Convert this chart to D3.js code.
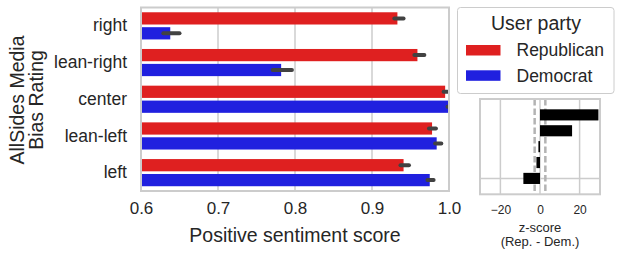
<!DOCTYPE html>
<html>
<head>
<meta charset="utf-8">
<script src="https://cdn.jsdelivr.net/npm/d3@7"></script>
<style>
  body { margin: 0; background: #fff; }
  svg { font-family: "Liberation Sans", Arial, sans-serif; }
</style>
</head>
<body>
<div id="chart"></div>
<script>
// chart data
const categories = ["right", "lean-right", "center", "lean-left", "left"];
const parties = ["Republican", "Democrat"];
const repMean = [0.933, 0.959, 0.995, 0.978, 0.941];
const repLow = [0.929, 0.955, 0.993, 0.974, 0.937];
const repHigh = [0.941, 0.968, 0.998, 0.983, 0.948];
const demMean = [0.638, 0.782, 0.999, 0.984, 0.975];
const demLow = [0.629, 0.771, 0.998, 0.982, 0.972];
const demHigh = [0.650, 0.796, 1.000, 0.990, 0.980];
const zScores = [29.5, 16.2, -0.8, -1.8, -8.4];
const xTicks = [0.6, 0.7, 0.8, 0.9, 1.0];
const zTicks = [-20, 0, 20];

const width = 622;
const height = 257;
const margin = { top: 7.5, right: 173, bottom: 66, left: 141 };
const textColor = "#262626";
const gridColor = "#cccccc";
const colors = { Republican: "#df2020", Democrat: "#2020df" };

const rows = [];
categories.forEach((c, i) => {
    rows.push({ cat: c, party: "Republican", v: repMean[i], lo: repLow[i], hi: repHigh[i] });
    rows.push({ cat: c, party: "Democrat", v: demMean[i], lo: demLow[i], hi: demHigh[i] });
});

const svg = d3.select("#chart")
    .append("svg")
    .attr("width", width)
    .attr("height", height);

// main plot scales
const x = d3.scaleLinear()
    .domain([0.6, 1.0])
    .range([margin.left, width - margin.right]);

const y0 = d3.scaleBand()
    .domain(categories)
    .range([margin.top, height - margin.bottom])
    .paddingInner(0.26)
    .paddingOuter(0.13);

const y1 = d3.scaleBand()
    .domain(parties)
    .range([0, y0.bandwidth()])
    .paddingInner(0.18);

svg.append("clipPath")
    .attr("id", "clipMain")
    .append("rect")
    .attr("x", x(0.6))
    .attr("y", margin.top)
    .attr("width", x(1.0) - x(0.6))
    .attr("height", height - margin.bottom - margin.top);

// vertical grid
svg.append("g")
    .selectAll("line")
    .data(xTicks)
    .enter()
    .append("line")
    .attr("x1", d => x(d))
    .attr("x2", d => x(d))
    .attr("y1", margin.top)
    .attr("y2", height - margin.bottom)
    .attr("stroke", gridColor)
    .attr("stroke-width", 1.5);

const plot = svg.append("g").attr("clip-path", "url(#clipMain)");

plot.selectAll("rect.bar")
    .data(rows)
    .enter()
    .append("rect")
    .attr("class", "bar")
    .attr("x", x(0.6) - 5)
    .attr("y", d => y0(d.cat) + y1(d.party))
    .attr("width", d => x(d.v) - x(0.6) + 5)
    .attr("height", y1.bandwidth())
    .attr("fill", d => colors[d.party]);

// error bars
plot.selectAll("line.err")
    .data(rows)
    .enter()
    .append("line")
    .attr("x1", d => x(d.lo))
    .attr("x2", d => x(d.hi))
    .attr("y1", d => y0(d.cat) + y1(d.party) + y1.bandwidth() / 2)
    .attr("y2", d => y0(d.cat) + y1(d.party) + y1.bandwidth() / 2)
    .attr("stroke", "#424242")
    .attr("stroke-width", 4)
    .attr("stroke-linecap", "round");

// frame
svg.append("rect")
    .attr("x", x(0.6))
    .attr("y", margin.top)
    .attr("width", x(1.0) - x(0.6))
    .attr("height", height - margin.bottom - margin.top)
    .attr("fill", "none")
    .attr("stroke", gridColor)
    .attr("stroke-width", 2);

// axes
const xAxis = svg.append("g")
    .attr("transform", `translate(0, ${height - margin.bottom})`)
    .call(d3.axisBottom(x).tickValues(xTicks).tickFormat(d3.format(".1f")).tickSize(0).tickPadding(11));
xAxis.select(".domain").remove();
xAxis.selectAll("text").style("font-size", "17px").attr("fill", textColor);

const yAxis = svg.append("g")
    .attr("transform", `translate(${margin.left}, 0)`)
    .call(d3.axisLeft(y0).tickSize(0).tickPadding(14));
yAxis.select(".domain").remove();
yAxis.selectAll("text").style("font-size", "17.5px").attr("fill", textColor);

// axis titles
svg.append("text")
    .attr("x", (x(0.6) + x(1.0)) / 2)
    .attr("y", 241.5)
    .style("text-anchor", "middle")
    .style("font-size", "19.5px")
    .attr("fill", textColor)
    .text("Positive sentiment score");

const yTitle = svg.append("text")
    .attr("transform", "rotate(-90)")
    .style("text-anchor", "middle")
    .style("font-size", "19.5px")
    .attr("fill", textColor);
yTitle.append("tspan").attr("x", -100).attr("y", 23.5).text("AllSides Media");
yTitle.append("tspan").attr("x", -100).attr("y", 42.5).text("Bias Rating");

// legend
const legend = svg.append("g");
legend.append("rect")
    .attr("x", 457.5)
    .attr("y", 7.5)
    .attr("width", 156.5)
    .attr("height", 86)
    .attr("rx", 3)
    .attr("fill", "#fff")
    .attr("stroke", gridColor)
    .attr("stroke-width", 1);
legend.append("text")
    .attr("x", 536)
    .attr("y", 30)
    .style("text-anchor", "middle")
    .style("font-size", "19.5px")
    .attr("fill", textColor)
    .text("User party");
parties.forEach((p, i) => {
    legend.append("rect")
        .attr("x", 466)
        .attr("y", 45 + i * 25.3)
        .attr("width", 34.5)
        .attr("height", 10.5)
        .attr("fill", colors[p]);
    legend.append("text")
        .attr("x", 516.5)
        .attr("y", 56.3 + i * 25.3)
        .style("font-size", "17.5px")
        .attr("fill", textColor)
        .text(p);
});

// z-score panel
const zx = d3.scaleLinear().domain([-30.3, 30.3]).range([480, 600]);
const zy = d3.scaleLinear().domain([-1, 5]).range([99, 194.3]);

svg.append("g")
    .selectAll("line")
    .data(zTicks)
    .enter()
    .append("line")
    .attr("x1", d => zx(d))
    .attr("x2", d => zx(d))
    .attr("y1", zy(-1))
    .attr("y2", zy(5))
    .attr("stroke", gridColor)
    .attr("stroke-width", 1.5);

svg.append("line")
    .attr("x1", zx(-30.3))
    .attr("x2", zx(30.3))
    .attr("y1", zy(4))
    .attr("y2", zy(4))
    .attr("stroke", gridColor)
    .attr("stroke-width", 1.5);

svg.append("g")
    .selectAll("line")
    .data([-2.7, 2.7])
    .enter()
    .append("line")
    .attr("x1", d => zx(d))
    .attr("x2", d => zx(d))
    .attr("y1", zy(-1))
    .attr("y2", zy(5))
    .attr("stroke", "#b3b3b3")
    .attr("stroke-width", 2.5)
    .attr("stroke-dasharray", "6.5,3");

svg.append("g")
    .selectAll("rect")
    .data(zScores)
    .enter()
    .append("rect")
    .attr("x", d => zx(Math.min(0, d)))
    .attr("y", (d, i) => zy(i - 0.35))
    .attr("width", d => Math.abs(zx(d) - zx(0)))
    .attr("height", zy(0.7) - zy(0))
    .attr("fill", "#000");

svg.append("rect")
    .attr("x", zx(-30.3))
    .attr("y", zy(-1))
    .attr("width", zx(30.3) - zx(-30.3))
    .attr("height", zy(5) - zy(-1))
    .attr("fill", "none")
    .attr("stroke", gridColor)
    .attr("stroke-width", 2);

const zAxis = svg.append("g")
    .attr("transform", `translate(0, ${zy(5)})`)
    .call(d3.axisBottom(zx).tickValues(zTicks).tickFormat(d3.format("d")).tickSize(0).tickPadding(11));
zAxis.select(".domain").remove();
zAxis.selectAll("text").style("font-size", "12px").attr("fill", textColor);

const zTitle = svg.append("text")
    .style("text-anchor", "middle")
    .style("font-size", "13px")
    .attr("fill", textColor);
zTitle.append("tspan").attr("x", 540).attr("y", 232).text("z-score");
zTitle.append("tspan").attr("x", 540).attr("y", 246).text("(Rep. - Dem.)");
</script>
</body>
</html>
